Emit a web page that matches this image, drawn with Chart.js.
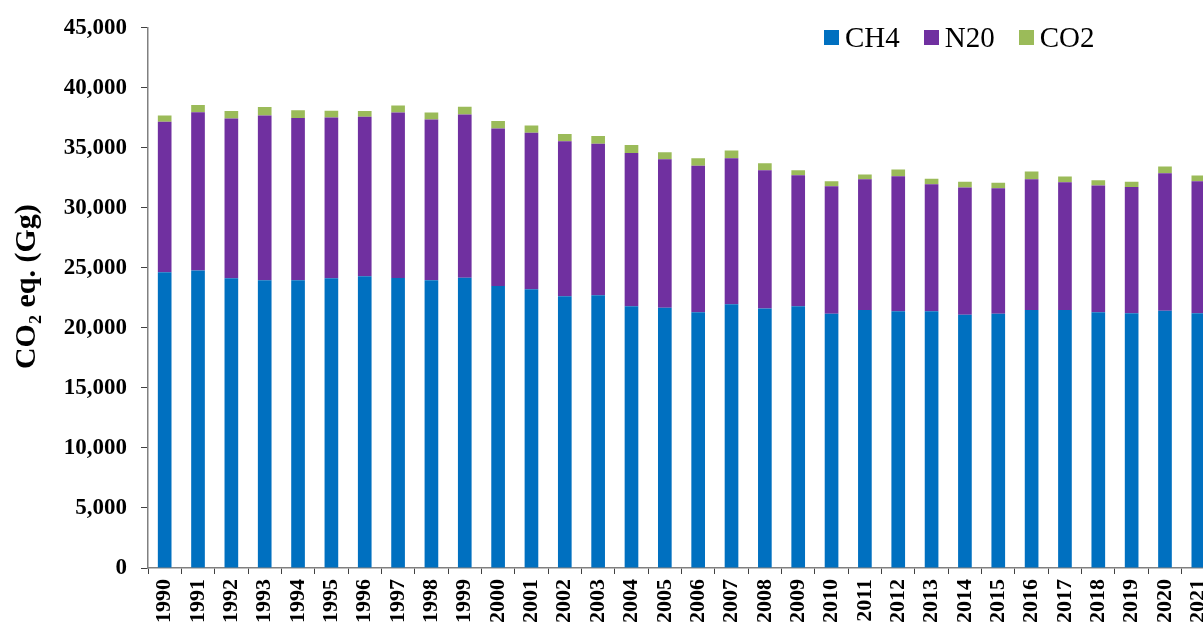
<!DOCTYPE html>
<html>
<head>
<meta charset="utf-8">
<script src="https://cdn.jsdelivr.net/npm/chart.js@4/dist/chart.umd.min.js"></script>
<style>
  html, body { margin: 0; padding: 0; background: #fff; overflow: hidden; }
  #wrap { position: relative; width: 1230px; height: 628px; }
  #legenda { position: absolute; top: 21px; left: 824px; display: flex; font-family: "Liberation Serif", "Times New Roman", serif; font-size: 29px; color: #000; }
  #legenda span.item { display: flex; align-items: center; margin-right: 24px; }
  #legenda span.box { width: 15px; height: 15px; margin-right: 6px; display: inline-block; }
</style>
</head>
<body>
<div id="wrap">
  <canvas id="grafico"></canvas>
  <div id="legenda"></div>
</div>
<script>
// anos e valores (Gg CO2 eq.)
const anos = ["1990","1991","1992","1993","1994","1995","1996","1997","1998","1999",
  "2000","2001","2002","2003","2004","2005","2006","2007","2008","2009",
  "2010","2011","2012","2013","2014","2015","2016","2017","2018","2019","2020","2021"];

const ch4 = [24630, 24790, 24130, 23960, 23960, 24130, 24300, 24150, 23960, 24180,
  23490, 23220, 22640, 22720, 21810, 21670, 21310, 21970, 21610, 21810,
  21190, 21500, 21390, 21390, 21090, 21170, 21500, 21500, 21310, 21230, 21420, 21230];

const n2o = [12540, 13180, 13320, 13730, 13520, 13400, 13290, 13790, 13400, 13600,
  13130, 13040, 12900, 12630, 12770, 12380, 12190, 12160, 11530, 10910,
  10610, 10890, 11250, 10580, 10610, 10470, 10890, 10640, 10560, 10500, 11470, 10990];

const co2 = [520, 600, 610, 720, 660, 560, 470, 580, 580, 640,
  610, 610, 610, 640, 660, 580, 630, 640, 580, 410,
  410, 390, 560, 450, 470, 450, 640, 470, 440, 450, 550, 470];

const nomes = ["CH4", "N20", "CO2"];
const cores = ["#0070C0", "#7030A0", "#9BBB59"];

const fonteSerif = '"Liberation Serif", "Times New Roman", serif';

const series = [ch4, n2o, co2];
const datasets = series.map((dados, i) => ({
  label: nomes[i],
  data: dados,
  backgroundColor: cores[i],
  borderWidth: 0,
  categoryPercentage: 1.0,
  barPercentage: 0.41
}));

// legenda em HTML
const legenda = document.getElementById("legenda");
nomes.forEach((n, i) => {
  legenda.innerHTML += `<span class="item"><span class="box" style="background:${cores[i]}"></span>${n}</span>`;
});

new Chart(document.getElementById("grafico"), {
  type: "bar",
  data: { labels: anos, datasets: datasets },
  options: {
    responsive: true,
    maintainAspectRatio: false,
    animation: false,
    layout: { padding: { top: 25, right: 15, left: 0, bottom: 0 } },
    plugins: {
      legend: { display: false },
      tooltip: { enabled: false }
    },
    scales: {
      x: {
        stacked: true,
        afterFit: s => { s.height = 60; },
        border: { color: "#808080", width: 1.5 },
        grid: { offset: true, drawOnChartArea: false, drawTicks: true, tickLength: 6, color: "#404040" },
        ticks: {
          color: "#000",
          minRotation: 90,
          maxRotation: 90,
          padding: 5,
          autoSkip: false,
          font: { family: fonteSerif, size: 22, weight: "bold" }
        }
      },
      y: {
        stacked: true,
        min: 0,
        max: 45000,
        afterFit: s => { s.width = 148; },
        border: { color: "#808080", width: 1.5 },
        grid: { drawOnChartArea: false, drawTicks: true, tickLength: 7, color: "#404040" },
        ticks: {
          stepSize: 5000,
          color: "#000",
          padding: 14,
          font: { family: fonteSerif, size: 23, weight: "bold" },
          callback: v => v.toLocaleString("en-US")
        },
        title: {
          display: true,
          // espacos no inicio sobem um pouco o titulo, como no original
          text: "   CO\u2082 eq. (Gg)",
          color: "#000",
          padding: { top: 9, bottom: 0 },
          font: { family: fonteSerif, size: 30, weight: "bold" }
        }
      }
    }
  }
});
</script>
</body>
</html>
